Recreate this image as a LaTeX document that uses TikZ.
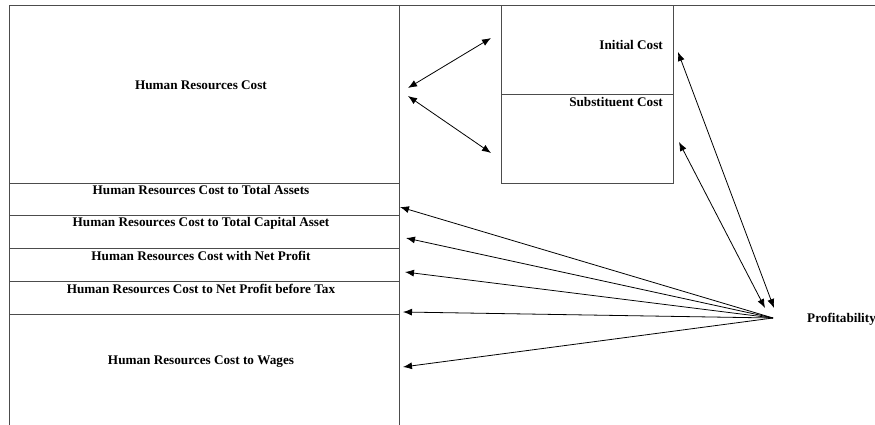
\documentclass[tikz,border=0pt]{standalone}
\usepackage{fontspec}
\setmainfont{Liberation Serif}
\usetikzlibrary{arrows.meta}

\begin{document}
\begin{tikzpicture}[
  x=1pt, y=-1pt,
  font=\bfseries\fontsize{13.2}{15}\selectfont,
  frame/.style = {draw=black!70, line width=0.9pt},
  txt/.style   = {inner sep=0pt},
  arr/.style   = {-{Latex[length=9pt,width=7pt]}, line width=0.8pt},
  dbl/.style   = {{Latex[length=9pt,width=7pt]}-{Latex[length=9pt,width=7pt]}, line width=0.8pt},
]
\useasboundingbox (0,0) rectangle (875,425);

% =============================================================
% Left block -- cost measures
% =============================================================
\draw[frame] (9,5) -- (875,5);
\draw[frame] (9,425) -- (9,5);
\draw[frame] (399,5) -- (399,425);
\foreach \y in {183,215,248,281,314} {
  \draw[frame] (9,\y) -- (399,\y);
}

\node[txt] (hrc)  at (201,85)  {Human Resources Cost};
\node[txt] (hrc1) at (201,190) {Human Resources Cost to Total Assets};
\node[txt] (hrc2) at (201,223) {Human Resources Cost to Total Capital Asset};
\node[txt] (hrc3) at (201,256) {Human Resources Cost with Net Profit};
\node[txt] (hrc4) at (201,289) {Human Resources Cost to Net Profit before Tax};
\node[txt] (hrc5) at (201,362) {Human Resources Cost to Wages};

% =============================================================
% Right block -- cost components
% =============================================================
\draw[frame] (501,5) rectangle (673,183);
\draw[frame] (501,94) -- (673,94);
\node[txt, anchor=east] (init)  at (663,45)  {Initial Cost};
\node[txt, anchor=east] (subst) at (663,102) {Substituent Cost};

% Profitability (runs off the right edge)
\node[txt, anchor=west] (prof) at (807,319) {Profitability};

% =============================================================
% Arrow ends
% =============================================================
\coordinate (hrc up)   at (408,88);
\coordinate (hrc dn)   at (408,96);
\coordinate (init in)  at (491,38);
\coordinate (subst in) at (491,153);
\coordinate (init out) at (678,52);
\coordinate (subst out) at (679,142);
\coordinate (prof a)   at (774,308);
\coordinate (prof b)   at (765,308);
\coordinate (hub)      at (773,318);
\coordinate (m1) at (400,207);
\coordinate (m2) at (406,238);
\coordinate (m3) at (405,272);
\coordinate (m4) at (403,312);
\coordinate (m5) at (403,367);

% Cost <-> components
\draw[dbl] (hrc up) -- (init in);
\draw[dbl] (hrc dn) -- (subst in);

% Components <-> profitability
\draw[dbl] (init out) -- (prof a);
\draw[dbl] (subst out) -- (prof b);

% Profitability fan into the cost ratios
\foreach \i in {1,...,5} {
  \draw[arr] (hub) -- (m\i);
}

\end{tikzpicture}
\end{document}
